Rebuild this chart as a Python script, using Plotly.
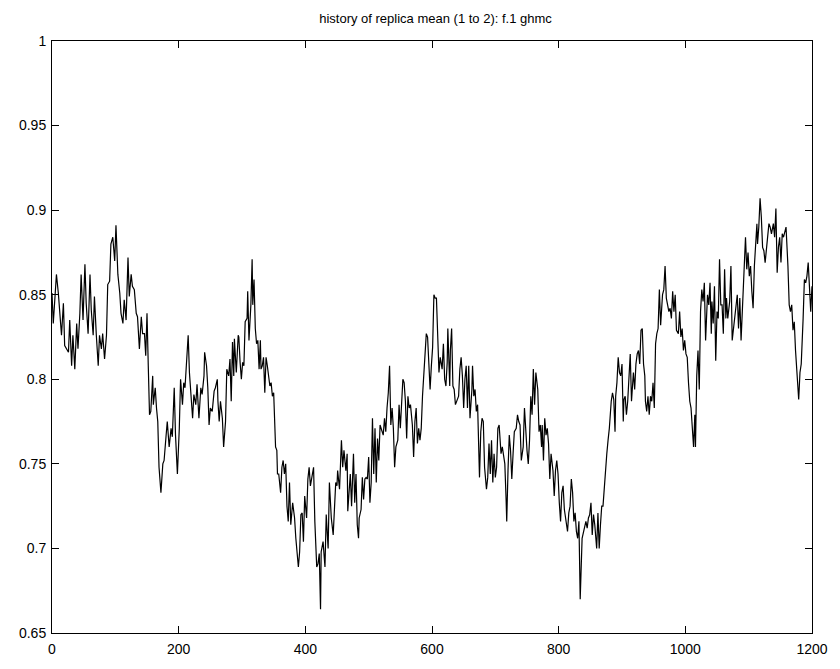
import plotly.graph_objects as go

# Replica-mean history, f.1 ghmc: iteration number and mean value, in blocks.
iter_a = [0, 2, 7, 10, 15, 18, 20, 26, 28, 31, 33, 36, 39, 41, 44, 46, 49, 52, 54, 57,
          60, 62, 65, 67, 70, 73, 75, 78, 80, 83, 86, 88, 91, 93, 96, 99, 101, 104, 107,
          109, 112, 114, 117, 120, 122, 125, 127, 130, 133, 135, 138, 141, 143]
mean_a = [0.851, 0.833, 0.862, 0.851, 0.826, 0.845, 0.820, 0.816, 0.835, 0.808, 0.826,
          0.806, 0.833, 0.818, 0.839, 0.862, 0.835, 0.868, 0.845, 0.827, 0.862, 0.841,
          0.826, 0.849, 0.826, 0.808, 0.826, 0.818, 0.827, 0.812, 0.826, 0.856, 0.858,
          0.880, 0.884, 0.870, 0.891, 0.862, 0.851, 0.839, 0.833, 0.847, 0.835, 0.872,
          0.849, 0.862, 0.855, 0.853, 0.839, 0.837, 0.818, 0.837, 0.827]

iter_b = [146, 148, 150, 152, 154, 156, 159, 160, 163, 165, 167, 169, 172, 175, 177, 180,
          182, 185, 188, 190, 193, 195, 198, 201, 203, 206, 208, 210, 212, 215, 217, 220,
          222, 224, 227, 229, 232, 235, 237, 240, 241, 244, 246, 248, 250, 253, 256, 258,
          261, 262, 264, 266, 269, 271, 274, 276, 279, 281, 283, 285, 287, 288, 291, 294]
mean_b = [0.827, 0.814, 0.839, 0.808, 0.779, 0.781, 0.802, 0.785, 0.795, 0.783, 0.775,
          0.748, 0.733, 0.750, 0.752, 0.766, 0.775, 0.760, 0.771, 0.766, 0.795, 0.767,
          0.744, 0.771, 0.800, 0.785, 0.798, 0.795, 0.810, 0.826, 0.804, 0.785, 0.777,
          0.791, 0.785, 0.797, 0.777, 0.795, 0.791, 0.802, 0.816, 0.808, 0.795, 0.773,
          0.783, 0.781, 0.793, 0.795, 0.800, 0.787, 0.775, 0.787, 0.777, 0.760, 0.775,
          0.806, 0.802, 0.812, 0.787, 0.822, 0.802, 0.824, 0.804, 0.826]

iter_c = [295, 297, 299, 301, 303, 305, 308, 309, 311, 314, 316, 317, 319, 321, 323, 325,
          327, 329, 330, 332, 334, 336, 338, 340, 342, 344, 346, 348, 350, 351, 353, 355,
          356, 358, 361, 363, 365, 367, 369, 371, 373, 375, 377, 380, 383, 385, 387, 389,
          391, 393, 395, 397, 399, 402, 404, 406, 408, 411, 413, 415, 418, 420, 422, 424,
          425, 428, 431, 433, 436, 438, 441]
mean_c = [0.825, 0.810, 0.800, 0.810, 0.808, 0.834, 0.836, 0.852, 0.823, 0.844, 0.871,
          0.844, 0.859, 0.830, 0.821, 0.823, 0.806, 0.823, 0.806, 0.808, 0.813, 0.792,
          0.813, 0.808, 0.800, 0.796, 0.798, 0.790, 0.792, 0.775, 0.760, 0.758, 0.744,
          0.744, 0.733, 0.748, 0.752, 0.744, 0.750, 0.725, 0.716, 0.739, 0.714, 0.727,
          0.718, 0.706, 0.697, 0.689, 0.698, 0.720, 0.721, 0.704, 0.731, 0.718, 0.741,
          0.748, 0.737, 0.744, 0.748, 0.716, 0.689, 0.691, 0.697, 0.664, 0.698, 0.704,
          0.689, 0.720, 0.700, 0.739, 0.718]

iter_d = [444, 446, 448, 450, 451, 454, 455, 457, 459, 461, 464, 466, 467, 470, 471, 473,
          476, 478, 480, 482, 484, 485, 488, 490, 492, 494, 496, 498, 500, 502, 504, 506,
          508, 510, 512, 514, 516, 518, 520, 523, 525, 527, 529, 531, 533, 535, 537, 539,
          541, 543, 546, 548, 550, 552, 554, 556, 558, 560, 562, 564, 566, 569, 571, 573,
          575, 577, 579, 581, 583, 585, 587, 589, 591]
mean_d = [0.708, 0.727, 0.739, 0.737, 0.746, 0.735, 0.744, 0.764, 0.748, 0.758, 0.746,
          0.756, 0.722, 0.742, 0.744, 0.725, 0.756, 0.727, 0.744, 0.714, 0.706, 0.718,
          0.723, 0.742, 0.729, 0.741, 0.742, 0.741, 0.754, 0.727, 0.739, 0.777, 0.744,
          0.771, 0.739, 0.765, 0.752, 0.773, 0.771, 0.767, 0.777, 0.769, 0.783, 0.792,
          0.808, 0.773, 0.783, 0.771, 0.748, 0.760, 0.764, 0.785, 0.771, 0.785, 0.800,
          0.798, 0.787, 0.765, 0.790, 0.783, 0.785, 0.773, 0.754, 0.775, 0.783, 0.762,
          0.771, 0.764, 0.771, 0.790, 0.802, 0.817, 0.827]

iter_e = [593, 595, 597, 599, 601, 603, 605, 607, 609, 611, 613, 616, 618, 620, 622, 624,
          625, 628, 629, 631, 633, 635, 637, 640, 642, 644, 646, 648, 650, 652, 654, 656,
          658, 660, 663, 664, 666, 668, 670, 672, 674, 675, 677, 679, 681, 683, 686, 688,
          690, 692, 694, 696, 698, 700, 702, 704, 706, 709, 711, 713, 715, 717, 718, 720,
          722, 724, 726, 728, 730, 733, 735, 737, 739]
mean_e = [0.825, 0.804, 0.794, 0.808, 0.819, 0.850, 0.848, 0.848, 0.830, 0.804, 0.813,
          0.806, 0.821, 0.800, 0.796, 0.810, 0.830, 0.796, 0.817, 0.830, 0.796, 0.794,
          0.785, 0.788, 0.790, 0.806, 0.813, 0.802, 0.783, 0.800, 0.808, 0.783, 0.808,
          0.777, 0.794, 0.808, 0.790, 0.794, 0.781, 0.785, 0.752, 0.742, 0.769, 0.777,
          0.775, 0.748, 0.735, 0.742, 0.762, 0.744, 0.764, 0.739, 0.756, 0.742, 0.748,
          0.771, 0.773, 0.756, 0.760, 0.754, 0.750, 0.729, 0.716, 0.746, 0.767, 0.758,
          0.741, 0.756, 0.769, 0.771, 0.779, 0.775, 0.773]

iter_f = [741, 744, 746, 748, 750, 752, 754, 756, 758, 760, 762, 764, 767, 769, 771, 773,
          774, 776, 778, 780, 782, 784, 786, 788, 791, 793, 795, 797, 799, 801, 803, 805,
          807, 809, 811, 814, 816, 818, 820, 822, 824, 826, 828, 830, 832, 834, 837, 839,
          841, 843, 845, 847, 849, 851, 853, 855, 857, 860, 862, 864, 866, 868, 870, 872,
          874, 876, 878, 880, 883, 885, 887, 889]
mean_f = [0.752, 0.760, 0.783, 0.769, 0.758, 0.750, 0.764, 0.790, 0.779, 0.806, 0.785,
          0.804, 0.794, 0.769, 0.773, 0.760, 0.773, 0.752, 0.777, 0.767, 0.771, 0.762,
          0.741, 0.756, 0.746, 0.731, 0.746, 0.752, 0.744, 0.727, 0.716, 0.733, 0.737,
          0.723, 0.718, 0.710, 0.721, 0.725, 0.741, 0.733, 0.716, 0.721, 0.710, 0.706,
          0.716, 0.670, 0.706, 0.710, 0.712, 0.716, 0.712, 0.718, 0.720, 0.727, 0.708,
          0.720, 0.714, 0.700, 0.721, 0.700, 0.714, 0.725, 0.725, 0.737, 0.744, 0.756,
          0.764, 0.771, 0.787, 0.792, 0.788, 0.769]

iter_g = [890, 892, 894, 896, 898, 900, 902, 903, 905, 907, 909, 911, 913, 915, 918, 920,
          922, 924, 926, 928, 930, 932, 934, 936, 937, 939, 941, 943, 945, 947, 949, 951,
          953, 955, 957, 959, 961, 964, 966, 968, 970, 972, 974, 976, 978, 980, 982, 984,
          986, 989, 991, 993, 995, 997, 999, 1001, 1003, 1005, 1007, 1009, 1012, 1013,
          1015, 1016, 1018, 1020, 1022, 1024, 1026, 1028, 1030, 1032, 1035, 1037]
mean_g = [0.790, 0.798, 0.813, 0.804, 0.802, 0.809, 0.775, 0.788, 0.790, 0.779, 0.787,
          0.802, 0.815, 0.787, 0.804, 0.794, 0.809, 0.815, 0.817, 0.809, 0.829, 0.830,
          0.809, 0.802, 0.787, 0.781, 0.790, 0.779, 0.790, 0.787, 0.798, 0.783, 0.821,
          0.827, 0.830, 0.853, 0.832, 0.850, 0.853, 0.867, 0.848, 0.844, 0.840, 0.842,
          0.836, 0.852, 0.840, 0.850, 0.829, 0.827, 0.840, 0.825, 0.830, 0.817, 0.823,
          0.815, 0.813, 0.798, 0.787, 0.783, 0.767, 0.760, 0.779, 0.760, 0.802, 0.817,
          0.794, 0.840, 0.853, 0.846, 0.857, 0.823, 0.850, 0.844]

iter_h = [1039, 1041, 1042, 1044, 1046, 1048, 1050, 1052, 1054, 1056, 1058, 1060, 1062,
          1064, 1065, 1067, 1070, 1072, 1074, 1076, 1078, 1080, 1082, 1084, 1086, 1088,
          1090, 1093, 1095, 1097, 1099, 1101, 1103, 1105, 1107, 1109, 1111, 1113, 1114,
          1116, 1118, 1120, 1122, 1124, 1126, 1128, 1130, 1132, 1134, 1136, 1139, 1141,
          1143, 1145, 1147, 1149, 1151, 1153, 1155, 1157, 1159, 1162, 1164, 1166, 1168,
          1170, 1172, 1174, 1176, 1178, 1179, 1181, 1183, 1186, 1188, 1190, 1192, 1194,
          1196, 1198, 1200]
mean_h = [0.857, 0.827, 0.846, 0.833, 0.855, 0.811, 0.840, 0.836, 0.871, 0.844, 0.844,
          0.827, 0.865, 0.836, 0.848, 0.836, 0.846, 0.867, 0.823, 0.830, 0.836, 0.844,
          0.850, 0.830, 0.848, 0.823, 0.842, 0.863, 0.884, 0.865, 0.875, 0.861, 0.867,
          0.852, 0.842, 0.867, 0.882, 0.892, 0.880, 0.890, 0.907, 0.896, 0.878, 0.876,
          0.869, 0.878, 0.884, 0.892, 0.890, 0.886, 0.892, 0.884, 0.901, 0.863, 0.878,
          0.884, 0.869, 0.886, 0.884, 0.888, 0.890, 0.867, 0.844, 0.840, 0.844, 0.829,
          0.834, 0.817, 0.806, 0.794, 0.788, 0.804, 0.809, 0.836, 0.859, 0.857, 0.861,
          0.869, 0.852, 0.840, 0.855]

iterations = iter_a + iter_b + iter_c + iter_d + iter_e + iter_f + iter_g + iter_h
replica_mean = mean_a + mean_b + mean_c + mean_d + mean_e + mean_f + mean_g + mean_h

x_ticks = [0, 200, 400, 600, 800, 1000, 1200]
y_ticks = [0.65, 0.7, 0.75, 0.8, 0.85, 0.9, 0.95, 1]
y_tick_text = ["0.65", "0.7", "0.75", "0.8", "0.85", "0.9", "0.95", "1"]

FONT = "Liberation Sans, Arial, sans-serif"

fig = go.Figure(
    go.Scatter(
        x=iterations,
        y=replica_mean,
        mode="lines",
        line=dict(color="black", width=1.2),
        hoverinfo="x+y",
    )
)

axis_common = dict(
    showline=True,
    linecolor="black",
    linewidth=1,
    mirror="ticks",
    ticks="inside",
    ticklen=7,
    tickwidth=1,
    tickcolor="black",
    showgrid=False,
    zeroline=False,
    tickfont=dict(family=FONT, size=14, color="black"),
)

fig.update_xaxes(range=[0, 1200], tickvals=x_ticks, ticktext=[str(t) for t in x_ticks],
                 ticklabelstandoff=3, **axis_common)
fig.update_yaxes(range=[0.65, 1], tickvals=y_ticks, ticktext=y_tick_text,
                 ticklabelstandoff=2, **axis_common)

fig.update_layout(
    width=840,
    height=669,
    margin=dict(l=52, r=21, t=41, b=26),
    paper_bgcolor="white",
    plot_bgcolor="white",
    showlegend=False,
    title=dict(
        text="history of replica mean (1 to 2): f.1 ghmc",
        x=(52 + 383.5) / 840,
        xanchor="center",
        y=1 - 18 / 669,
        yanchor="middle",
        yref="container",
        font=dict(family=FONT, size=13, color="black"),
    ),
)

fig.write_html("out.html")
